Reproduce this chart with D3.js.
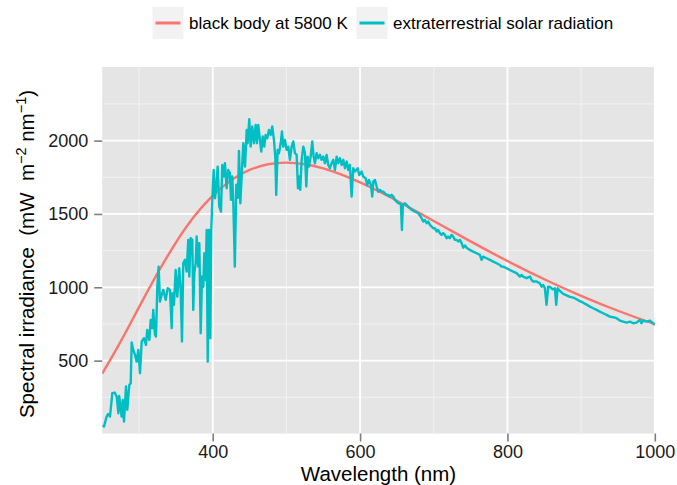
<!DOCTYPE html>
<html>
<head>
<meta charset="utf-8">
<script src="https://cdn.jsdelivr.net/npm/d3@7"></script>
<style>
  html, body { margin: 0; padding: 0; background: #ffffff; }
  svg { display: block; font-family: "Liberation Sans", Arial, Helvetica, sans-serif; }
</style>
</head>
<body>
<svg id="chart" width="677" height="485"></svg>
<script>
// ---------------- data ----------------
const seriesNames = ["black body at 5800 K", "extraterrestrial solar radiation"];
const seriesColors = ["#F8766D", "#00BFC4"];

const xTicks = [400, 600, 800, 1000];
const xMinor = [300, 500, 700, 900];
const yTicks = [500, 1000, 1500, 2000];
const yMinor = [250, 750, 1250, 1750, 2250];

const bbWavelength = [250, 275, 300, 325, 350, 375, 400, 425, 450, 475, 500, 525, 550, 575, 600, 625, 650, 675, 700, 750, 800, 850, 900, 950, 1000];
const bbIrradiance = [412, 630, 865, 1095, 1305, 1484, 1625, 1730, 1800, 1839, 1850, 1839, 1811, 1768, 1715, 1655, 1590, 1521, 1452, 1313, 1179, 1055, 942, 840, 748];

const solarWavelength = [
  250.7, 252.4, 256, 258, 260.6, 263.7, 267, 269.7, 272, 273, 276.4, 277.8, 279.6, 282.3, 284, 286.8, 288.7,
  290, 292.2, 294.5, 296.8, 299, 301.3, 303.6, 306.7, 309.4, 311.2, 314, 315.8, 318, 319.3, 321.6, 323,
  324.8, 326.6, 328.4, 330.7, 332.9, 336.2, 338.9, 342, 344.3, 345.6, 347.4, 349.7, 351.9, 354.6, 356.5,
  358.3, 360, 362.3, 364.6, 366.8, 368.2, 370, 372.3, 373.6, 375, 376.9, 378.2, 380.4, 381.8, 383.7,
  385.4, 387.2, 388.6, 390.4, 391.8, 393.2, 394.9, 396.7, 398, 400, 401.3, 403.1, 404.8, 406.7, 408.9,
  411.2, 413, 415.3, 416.6, 418.9, 421.1, 423.4, 424.8, 426.5, 427.9, 430, 432, 434.3, 435.6, 437.5,
  439.5, 441.5, 443.8, 446.1, 447.4, 449.6, 451.5, 453.7, 456, 458.3, 460, 461.8, 464.1, 465.9, 467.8,
  470, 471.8, 474, 476.3, 478.6, 480.8, 483.1, 484.9, 486.2, 488.1, 489.9, 492.2, 494, 495.7, 498,
  500.3, 502.5, 504.8, 507.1, 509.3, 511.6, 513.9, 515.7, 517.5, 518.8, 520.7, 522.9, 525.2, 527, 528.8,
  530.6, 532.9, 535.1, 537, 538.7, 541, 543.2, 545.5, 547.8, 550, 552.3, 554.6, 556.8, 559.1, 561.4,
  563.6, 565.9, 568.2, 570.4, 572.7, 575, 577.2, 579.5, 581.8, 584, 586.2, 588.5, 590.7, 593, 596.7,
  598.9, 602.1, 604.3, 607.5, 609.7, 612, 614.7, 616.5, 617.9, 620.2, 622.5, 624.6, 627, 629.2, 631.4,
  633.7, 636, 638.2, 640.5, 642.8, 645, 647.3, 649.6, 651.8, 654.1, 655.4, 656.8, 658.1, 660.9, 665.3,
  670, 674.4, 679, 683.5, 685.7, 688, 690.3, 692.5, 694.8, 697.1, 699.3, 701.6, 703.9, 706, 708.3,
  710.6, 712.8, 715.1, 717.4, 719.6, 721.9, 724.2, 726.4, 728.7, 731, 733.2, 735.5, 737.8, 740, 742.3,
  745.4, 749, 753.5, 758.1, 762.6, 764.9, 767.1, 771.7, 776.2, 780.7, 785.3, 789.8, 792, 794.2, 798.8,
  803.3, 807.8, 812.4, 816.9, 819.2, 821.4, 826, 830.5, 832.8, 835, 839.6, 844, 846.3, 848.5, 850.8,
  853.1, 855.3, 858.6, 861.3, 864.4, 866.2, 868.1, 871.2, 875.7, 880.3, 884.8, 889.3, 893.8, 898.3, 902.8,
  907.4, 911.9, 916.4, 921, 925.4, 930, 934.5, 939, 943.5, 948.1, 952.6, 957, 961.7, 966.2, 970.6,
  975.2, 979.7, 982, 984.2, 988.8, 993.3, 997.8, 1000
];
const solarIrradiance = [
  61, 50, 118, 136, 118, 278, 282, 254, 141, 259, 118, 232, 84, 323, 164, 334, 346,
  623, 573, 539, 493, 573, 414, 630, 653, 607, 709, 641, 777, 721, 846, 675, 664,
  1004, 1141, 902, 948, 982, 914, 994, 982, 721, 959, 880, 1118, 936, 1130, 982,
  630, 1164, 1187, 1107, 1323, 1073, 1335, 1323, 846, 1096, 1164, 1346, 1141, 1301, 687,
  1073, 1004, 1232, 1050, 1391, 493, 1391, 653, 1391, 1664, 1800, 1607, 1687, 1823, 1550,
  1516, 1834, 1755, 1846, 1675, 1800, 1778, 1596, 1755, 1584, 1141, 1700, 1610, 1930, 1573,
  1780, 1982, 1823, 2073, 1982, 2146, 1959, 2096, 1982, 2107, 1982, 2107, 2005, 1925, 2028,
  1959, 2039, 2016, 2073, 2039, 2096, 2005, 1891, 1630, 1937, 1914, 1982, 2062, 1959, 2005,
  1937, 1959, 1869, 1959, 1994, 1914, 1903, 1675, 1755, 1664, 1869, 1959, 1914, 1687, 1891,
  1823, 1891, 1994, 1891, 1846, 1914, 1880, 1903, 1869, 1891, 1846, 1903, 1834, 1812, 1846,
  1869, 1800, 1891, 1846, 1880, 1834, 1869, 1812, 1857, 1800, 1834, 1618, 1812, 1789, 1812,
  1766, 1789, 1755, 1743, 1698, 1732, 1698, 1618, 1721, 1732, 1687, 1652, 1664, 1652, 1652,
  1641, 1630, 1630, 1618, 1630, 1618, 1596, 1584, 1573, 1573, 1562, 1391, 1562, 1573, 1550,
  1528, 1516, 1505, 1471, 1448, 1459, 1437, 1448, 1425, 1414, 1403, 1403, 1380, 1391, 1369,
  1357, 1369, 1357, 1335, 1346, 1335, 1357, 1346, 1323, 1323, 1312, 1323, 1301, 1270, 1285,
  1266, 1255, 1243, 1232, 1221, 1187, 1209, 1198, 1187, 1175, 1164, 1152, 1141, 1141, 1130,
  1118, 1107, 1096, 1073, 1084, 1073, 1062, 1073, 1050, 1039, 1039, 1027, 1004, 1016, 993,
  880, 1004, 1000, 986, 993, 880, 993, 975, 955, 945, 935, 930, 918, 905, 895,
  882, 868, 857, 846, 834, 823, 812, 800, 796, 789, 773, 766, 759, 766, 755,
  759, 777, 755, 773, 766, 773, 755, 743
];

// ---------------- layout ----------------
const svg = d3.select("#chart");
const panel = { left: 102.2, right: 654.8, top: 67, bottom: 433.5 };

const x = d3.scaleLinear().domain([250, 1000]).range([panel.left, panel.right]);
const y = d3.scaleLinear().domain([3, 2502]).range([panel.bottom, panel.top]);

// panel background
svg.append("rect")
  .attr("x", panel.left).attr("y", panel.top)
  .attr("width", panel.right - panel.left).attr("height", panel.bottom - panel.top)
  .attr("fill", "#E5E5E5");

// minor grid
const grid = svg.append("g");
grid.selectAll(".xminor").data(xMinor).enter().append("line")
  .attr("x1", d => x(d)).attr("x2", d => x(d))
  .attr("y1", panel.top).attr("y2", panel.bottom)
  .attr("stroke", "#F2F2F2").attr("stroke-width", 1);
grid.selectAll(".yminor").data(yMinor).enter().append("line")
  .attr("y1", d => y(d)).attr("y2", d => y(d))
  .attr("x1", panel.left).attr("x2", panel.right)
  .attr("stroke", "#F2F2F2").attr("stroke-width", 1);
// major grid
grid.selectAll(".xmajor").data(xTicks).enter().append("line")
  .attr("x1", d => x(d)).attr("x2", d => x(d))
  .attr("y1", panel.top).attr("y2", panel.bottom)
  .attr("stroke", "#FFFFFF").attr("stroke-width", 1.8);
grid.selectAll(".ymajor").data(yTicks).enter().append("line")
  .attr("y1", d => y(d)).attr("y2", d => y(d))
  .attr("x1", panel.left).attr("x2", panel.right)
  .attr("stroke", "#FFFFFF").attr("stroke-width", 1.8);

// lines
svg.append("clipPath").attr("id", "clip").append("rect")
  .attr("x", panel.left).attr("y", panel.top)
  .attr("width", panel.right - panel.left).attr("height", panel.bottom - panel.top);

const bbData = bbWavelength.map((w, i) => [w, bbIrradiance[i]]);
const solarData = solarWavelength.map((w, i) => [w, solarIrradiance[i]]);

const lineSmooth = d3.line().x(d => x(d[0])).y(d => y(d[1])).curve(d3.curveNatural);
const lineRaw = d3.line().x(d => x(d[0])).y(d => y(d[1]));

const plot = svg.append("g").attr("clip-path", "url(#clip)");
plot.append("path").datum(bbData).attr("d", lineSmooth)
  .attr("fill", "none").attr("stroke", seriesColors[0]).attr("stroke-width", 2.4);
plot.append("path").datum(solarData).attr("d", lineRaw)
  .attr("fill", "none").attr("stroke", seriesColors[1]).attr("stroke-width", 2.4)
  .attr("stroke-linejoin", "round");

// axes
const fmt = d3.format("d");
const xAxis = d3.axisBottom(x).tickValues(xTicks).tickFormat(fmt).tickSize(8).tickPadding(4);
const gx = svg.append("g").attr("transform", `translate(0,${panel.bottom})`).call(xAxis);
gx.select(".domain").remove();
gx.selectAll(".tick line").attr("stroke", "#7F7F7F").attr("stroke-width", 1.6);
gx.selectAll(".tick text").attr("fill", "#1A1A1A").attr("font-size", 18).attr("dy", "0.71em");

const yAxis = d3.axisLeft(y).tickValues(yTicks).tickFormat(fmt).tickSize(8).tickPadding(6);
const gy = svg.append("g").attr("transform", `translate(${panel.left},0)`).call(yAxis);
gy.select(".domain").remove();
gy.selectAll(".tick line").attr("stroke", "#7F7F7F").attr("stroke-width", 1.6);
gy.selectAll(".tick text").attr("fill", "#1A1A1A").attr("font-size", 18);

svg.selectAll(".tick text").attr("font-family", "Liberation Sans, Arial, sans-serif");

// axis titles
svg.append("text")
  .attr("x", (panel.left + panel.right) / 2).attr("y", 481)
  .attr("text-anchor", "middle").attr("font-size", 20.5).attr("fill", "#000")
  .text("Wavelength (nm)");

const yt = svg.append("text")
  .attr("transform", "translate(33.5,254) rotate(-90)")
  .attr("text-anchor", "middle").attr("font-size", 20.5).attr("fill", "#000");
yt.append("tspan").text("Spectral irradiance\u00A0\u00A0(mW\u00A0\u00A0m");
yt.append("tspan").attr("dy", -8).attr("font-size", 14.5).text("\u22122");
yt.append("tspan").attr("dy", 8).text("\u00A0nm");
yt.append("tspan").attr("dy", -8).attr("font-size", 14.5).text("\u22121");
yt.append("tspan").attr("dy", 8).text(")");

// legend
const legendItems = [
  { name: seriesNames[0], color: seriesColors[0], keyX: 152.5, textX: 189 },
  { name: seriesNames[1], color: seriesColors[1], keyX: 356.5, textX: 393 }
];
const lg = svg.append("g");
legendItems.forEach(it => {
  lg.append("rect").attr("x", it.keyX).attr("y", 7).attr("width", 31).attr("height", 32)
    .attr("fill", "#F2F2F2");
  lg.append("line").attr("x1", it.keyX + 3).attr("x2", it.keyX + 28)
    .attr("y1", 23).attr("y2", 23)
    .attr("stroke", it.color).attr("stroke-width", 3);
  lg.append("text").attr("x", it.textX).attr("y", 23).attr("dy", "0.35em")
    .attr("font-size", 17).attr("fill", "#000").text(it.name);
});
</script>
</body>
</html>
